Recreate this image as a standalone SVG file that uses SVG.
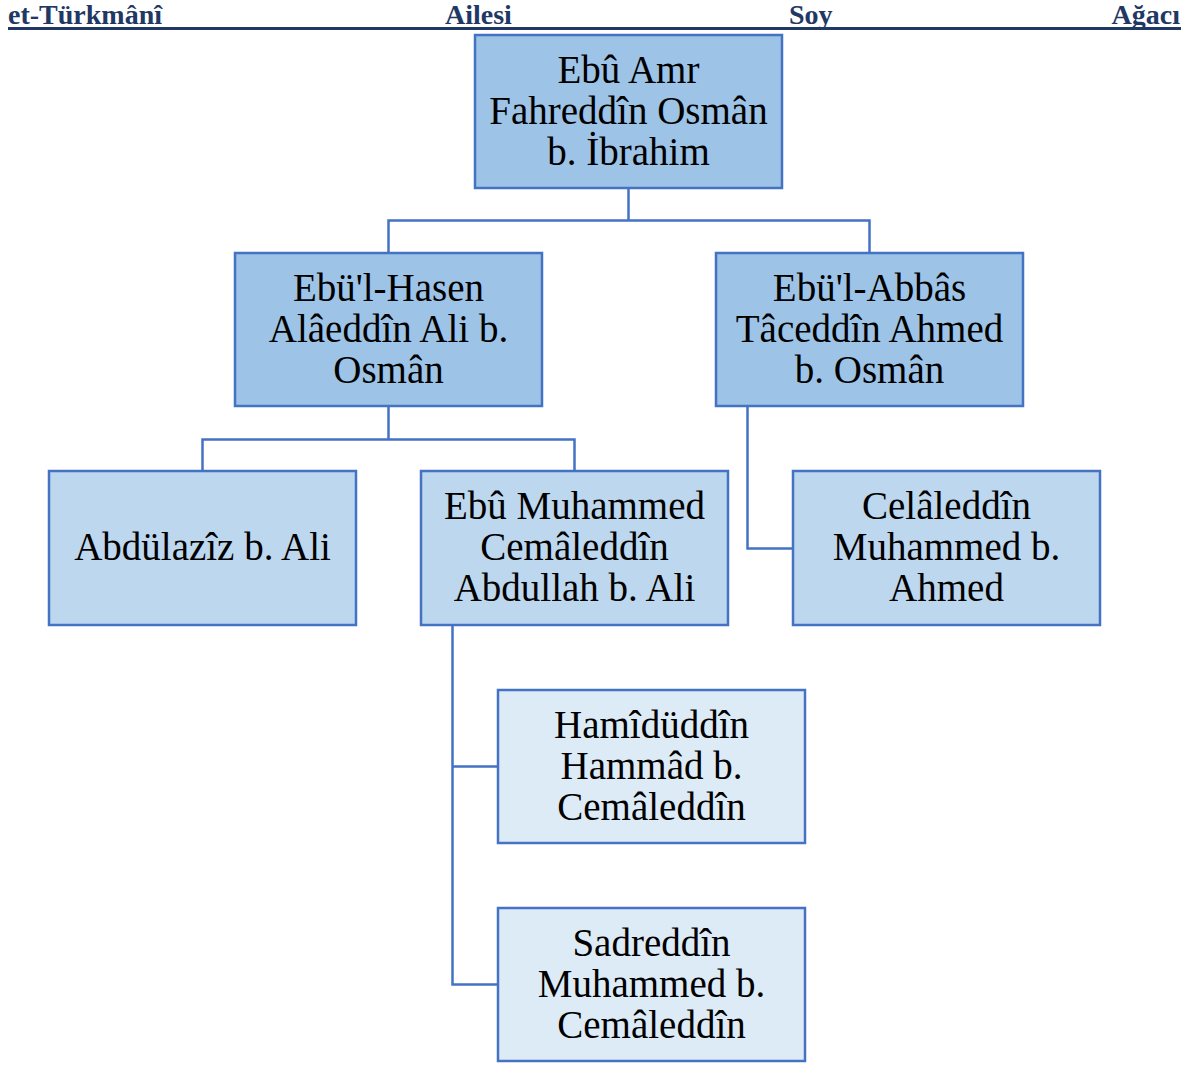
<svg xmlns="http://www.w3.org/2000/svg" width="1196" height="1066" viewBox="0 0 1196 1066">
<style>
.hdr{font-family:"Liberation Serif","Times New Roman",serif;font-weight:bold;font-size:28px;fill:#1f3864}
.box{stroke:#4472c4;stroke-width:2.5}
.l1{fill:#9dc3e6}
.l2{fill:#bdd7ee}
.l3{fill:#ddebf7}
.t{font-family:"Liberation Serif","Times New Roman",serif;font-size:39px;fill:#000;text-anchor:middle}
.con{fill:none;stroke:#4472c4;stroke-width:2.5}
</style>
<rect width="1196" height="1066" fill="#fff"/>
<g id="header">
<text class="hdr" x="8" y="24">et-Türkmânî</text>
<text class="hdr" x="445" y="24">Ailesi</text>
<text class="hdr" x="789" y="24">Soy</text>
<text class="hdr" x="1180" y="24" text-anchor="end">Ağacı</text>
<line x1="8" y1="28.5" x2="1181" y2="28.5" stroke="#1f3864" stroke-width="3"/>
</g>
<g id="connectors">
<path class="con" d="M628.5 188V220.5M388.5 253V220.5H869.5V253"/>
<path class="con" d="M388.5 406V439.5M202.5 471V439.5H574.5V471"/>
<path class="con" d="M747.5 406V548.5H793"/>
<path class="con" d="M452.5 625V984.5H498M452.5 766.5H498"/>
</g>
<g id="n-root">
<rect class="box l1" x="475" y="35" width="307" height="153"/>
<text class="t" x="628.5" y="83">Ebû Amr</text>
<text class="t" x="628.5" y="124">Fahreddîn Osmân</text>
<text class="t" x="628.5" y="165">b. İbrahim</text>
</g>
<g id="n-ali">
<rect class="box l1" x="235" y="253" width="307" height="153"/>
<text class="t" x="388.5" y="301">Ebü'l-Hasen</text>
<text class="t" x="388.5" y="342">Alâeddîn Ali b.</text>
<text class="t" x="388.5" y="383">Osmân</text>
</g>
<g id="n-ahmed">
<rect class="box l1" x="716" y="253" width="307" height="153"/>
<text class="t" x="869.5" y="301">Ebü'l-Abbâs</text>
<text class="t" x="869.5" y="342">Tâceddîn Ahmed</text>
<text class="t" x="869.5" y="383">b. Osmân</text>
</g>
<g id="n-abdulaziz">
<rect class="box l2" x="49" y="471" width="307" height="154"/>
<text class="t" x="202.5" y="560">Abdülazîz b. Ali</text>
</g>
<g id="n-abdullah">
<rect class="box l2" x="421" y="471" width="307" height="154"/>
<text class="t" x="574.5" y="519">Ebû Muhammed</text>
<text class="t" x="574.5" y="560">Cemâleddîn</text>
<text class="t" x="574.5" y="601">Abdullah b. Ali</text>
</g>
<g id="n-celaleddin">
<rect class="box l2" x="793" y="471" width="307" height="154"/>
<text class="t" x="946.5" y="519">Celâleddîn</text>
<text class="t" x="946.5" y="560">Muhammed b.</text>
<text class="t" x="946.5" y="601">Ahmed</text>
</g>
<g id="n-hammad">
<rect class="box l3" x="498" y="690" width="307" height="153"/>
<text class="t" x="651.5" y="738">Hamîdüddîn</text>
<text class="t" x="651.5" y="779">Hammâd b.</text>
<text class="t" x="651.5" y="820">Cemâleddîn</text>
</g>
<g id="n-sadreddin">
<rect class="box l3" x="498" y="908" width="307" height="153"/>
<text class="t" x="651.5" y="956">Sadreddîn</text>
<text class="t" x="651.5" y="997">Muhammed b.</text>
<text class="t" x="651.5" y="1038">Cemâleddîn</text>
</g>
</svg>
